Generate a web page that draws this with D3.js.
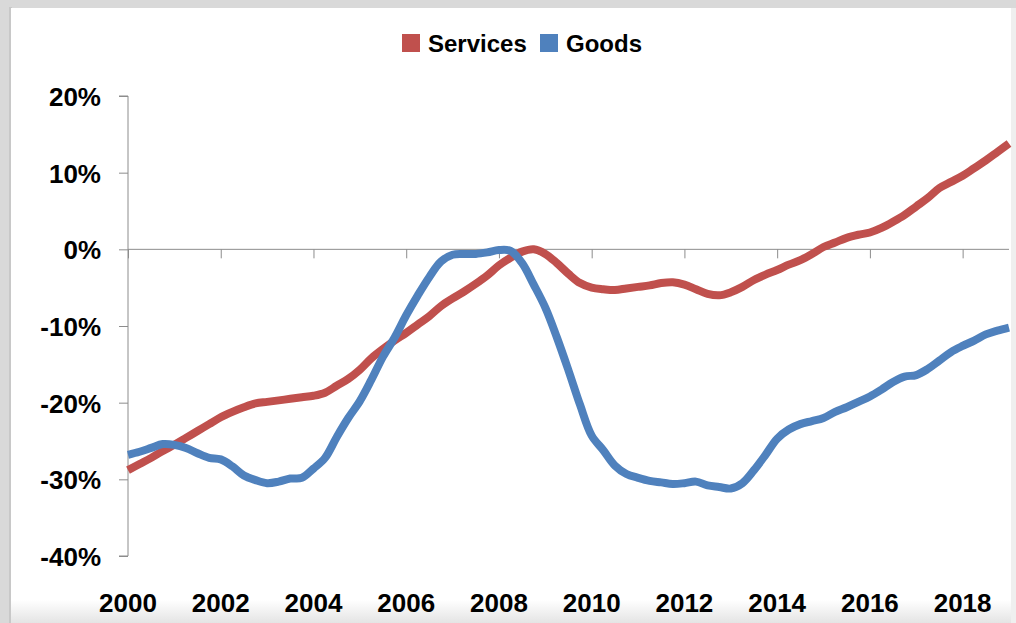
<!DOCTYPE html>
<html>
<head>
<meta charset="utf-8">
<script src="https://cdn.jsdelivr.net/npm/d3@7"></script>
<style>
  html, body { margin: 0; padding: 0; background: #d9d9d9; }
  svg { display: block; }
  text { font-family: "Liberation Sans", Arial, sans-serif; font-weight: bold; fill: #000; }
</style>
</head>
<body>
<svg id="chart" width="1016" height="623"></svg>
<script>
// ---- data (quarterly readings, 2000.00 .. 2019.00) ----
const quarters = d3.range(0, 77).map(i => 2000 + i / 4);
const servicesValues = [
  -28.8, -28.0, -27.2, -26.3,
  -25.5, -24.6, -23.7, -22.8,
  -21.9, -21.2, -20.6, -20.1,
  -19.9, -19.7, -19.5, -19.3,
  -19.1, -18.7, -17.8, -16.9,
  -15.7, -14.2, -13.0, -11.9,
  -10.9, -9.8, -8.7, -7.4,
  -6.4, -5.5, -4.5, -3.4,
  -2.1, -1.1, -0.3, 0.0,
  -0.6, -1.8, -3.2, -4.4,
  -5.0, -5.2, -5.3, -5.1,
  -4.9, -4.7, -4.4, -4.3,
  -4.6, -5.2, -5.8, -6.0,
  -5.6, -4.9, -4.0, -3.3,
  -2.7, -2.0, -1.4, -0.6,
  0.3, 0.9, 1.5, 1.9,
  2.2, 2.8, 3.6, 4.5,
  5.6, 6.7, 8.0, 8.8,
  9.6, 10.6, 11.6, 12.7,
  13.8
];
const goodsValues = [
  -26.8, -26.4, -25.9, -25.4,
  -25.5, -25.9, -26.6, -27.2,
  -27.4, -28.3, -29.5, -30.1,
  -30.5, -30.3, -29.9, -29.8,
  -28.6, -27.2, -24.5, -22.0,
  -19.8, -17.0, -14.0, -11.5,
  -8.6, -6.0, -3.6, -1.6,
  -0.7, -0.6, -0.6, -0.4,
  -0.1, -0.2, -1.8, -4.6,
  -7.6, -11.5, -15.8, -20.3,
  -24.3, -26.2, -28.2, -29.3,
  -29.8, -30.2, -30.4, -30.6,
  -30.5, -30.3, -30.8, -31.0,
  -31.2, -30.5, -28.8, -26.8,
  -24.7, -23.5, -22.8, -22.4,
  -22.0, -21.2, -20.6, -19.9,
  -19.2, -18.3, -17.3, -16.6,
  -16.4, -15.6, -14.5, -13.4,
  -12.6, -11.9, -11.1, -10.6,
  -10.2
];
const seriesNames = ["Services", "Goods"];
const seriesColors = ["#C0504D", "#4F81BD"];
const yTicks = [20, 10, 0, -10, -20, -30, -40];
const xTicks = [2000, 2002, 2004, 2006, 2008, 2010, 2012, 2014, 2016, 2018];

// ---- layout ----
const svg = d3.select("#chart");
const W = 1016, H = 623;

const defs = svg.append("defs");
const g1 = defs.append("linearGradient").attr("id", "bottomBevel")
  .attr("x1", 0).attr("y1", 0).attr("x2", 0).attr("y2", 1);
g1.append("stop").attr("offset", "0%").attr("stop-color", "#ffffff");
g1.append("stop").attr("offset", "100%").attr("stop-color", "#e4e4e4");

svg.append("rect").attr("x", 0).attr("y", 0).attr("width", W).attr("height", H).attr("fill", "#d9d9d9");
svg.append("rect").attr("x", 9).attr("y", 7).attr("width", 3).attr("height", H).attr("fill", "#c8c8c8");
svg.append("rect").attr("x", 11).attr("y", 8).attr("width", 1002).attr("height", 600).attr("fill", "#ffffff");
svg.append("rect").attr("x", 11).attr("y", 600).attr("width", 1002).attr("height", 23).attr("fill", "url(#bottomBevel)");
svg.append("rect").attr("x", 1011).attr("y", 8).attr("width", 5).attr("height", H).attr("fill", "#efefef");

const x = d3.scaleLinear().domain([2000, 2019]).range([128, 1009]);
const y = d3.scaleLinear().domain([-40, 20]).range([556, 96]);

const axisColor = "#8c8c8c";

// y axis
const yAxis = d3.axisLeft(y).tickValues(yTicks).tickSize(9).tickFormat(d => d + "%");
const yG = svg.append("g").attr("transform", `translate(${x(2000)},0)`).call(yAxis);
yG.select(".domain").attr("stroke", axisColor).attr("d", `M-9,${y(20)}H0V${y(-40)}H-9`);
yG.selectAll(".tick line").attr("stroke", axisColor);
yG.selectAll(".tick text")
  .attr("x", -27).attr("dy", "0.36em")
  .style("font-size", "26px").style("font-family", "'Liberation Sans', Arial, sans-serif")
  .style("font-weight", "bold").attr("fill", "#000");

// x axis at 0%
const xAxis = d3.axisBottom(x).tickValues(xTicks).tickSize(9).tickFormat(() => "");
const xG = svg.append("g").attr("transform", `translate(0,${y(0)})`).call(xAxis);
xG.select(".domain").attr("stroke", axisColor).attr("d", `M${x(2000)},0H${x(2019)}`);
xG.selectAll(".tick line").attr("stroke", axisColor);

// x labels at bottom
svg.append("g").selectAll("text").data(xTicks).join("text")
  .attr("x", d => x(d)).attr("y", 612)
  .attr("text-anchor", "middle")
  .style("font-size", "26px")
  .text(d => d);

// lines
const line = d3.line()
  .x(d => x(d[0])).y(d => y(d[1]))
  .curve(d3.curveCatmullRom.alpha(0.5));
const seriesData = [servicesValues, goodsValues];
seriesData.forEach((vals, i) => {
  svg.append("path")
    .datum(quarters.map((q, k) => [q, vals[k]]))
    .attr("fill", "none")
    .attr("stroke", seriesColors[i])
    .attr("stroke-width", 8)
    .attr("stroke-linejoin", "round")
    .attr("stroke-linecap", "butt")
    .attr("d", line);
});

// legend
const legend = [
  { name: seriesNames[0], color: seriesColors[0], sx: 402, tx: 428 },
  { name: seriesNames[1], color: seriesColors[1], sx: 540, tx: 566 }
];
const lg = svg.append("g");
legend.forEach(l => {
  lg.append("rect").attr("x", l.sx).attr("y", 34).attr("width", 18).attr("height", 18).attr("fill", l.color);
  lg.append("text").attr("x", l.tx).attr("y", 52).style("font-size", "24px").text(l.name);
});
</script>
</body>
</html>
